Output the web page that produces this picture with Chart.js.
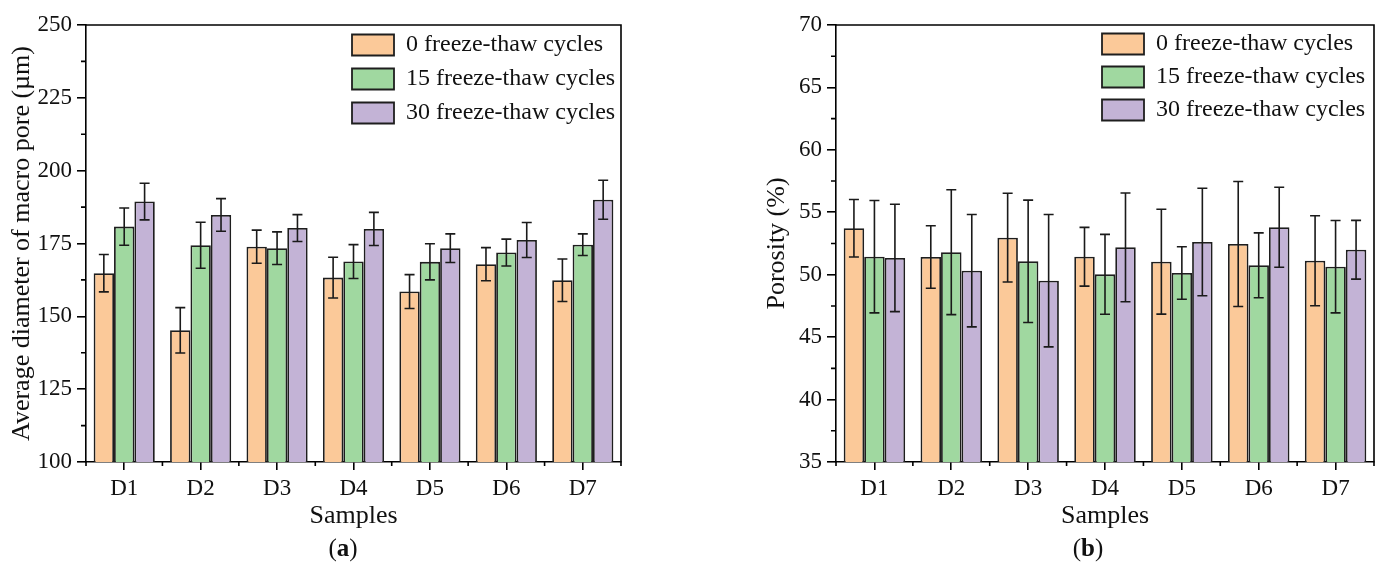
<!DOCTYPE html>
<html><head><meta charset="utf-8">
<script src="https://cdn.jsdelivr.net/npm/chart.js@4.4.1/dist/chart.umd.min.js"></script>
<style>
html,body{margin:0;padding:0;background:#fff;width:1375px;height:564px;overflow:hidden;}
.panel{position:absolute;top:0;height:564px;}
#pa{left:0;width:640px;}
#pb{left:750px;width:625px;}
.cap{position:absolute;top:534px;font:25px "Liberation Serif",serif;color:#111;width:60px;text-align:center;line-height:28px;}
</style></head><body>
<div class="panel" id="pa"><canvas id="ca"></canvas></div>
<div class="panel" id="pb"><canvas id="cb"></canvas></div>
<div class="cap" style="left:313px">(<b>a</b>)</div>
<div class="cap" style="left:1058px">(<b>b</b>)</div>
<script>
// ---- data ----
const samples = ['D1','D2','D3','D4','D5','D6','D7'];
const seriesNames = ['0 freeze-thaw cycles','15 freeze-thaw cycles','30 freeze-thaw cycles'];

const diam0     = [164.8,145.2,173.9,163.3,158.5,167.9,162.4];
const diam0Err  = [6.4,7.8,5.7,7.0,5.8,5.7,7.3];
const diam15    = [180.8,174.4,173.4,168.8,168.7,171.9,174.6];
const diam15Err = [6.4,7.9,5.6,5.8,6.2,4.6,3.7];
const diam30    = [189.4,184.8,180.3,180.0,173.4,176.2,190.0];
const diam30Err = [6.3,5.6,4.6,5.7,4.9,6.0,6.7];

const por0      = [53.72,51.42,52.97,51.44,51.04,52.46,51.12];
const por0Err   = [2.3,2.5,3.55,2.35,4.2,5.0,3.6];
const por15     = [51.44,51.80,51.07,50.03,50.14,50.75,50.64];
const por15Err  = [4.5,5.0,4.9,3.2,2.1,2.6,3.7];
const por30     = [51.34,50.32,49.52,52.19,52.62,53.80,52.00];
const por30Err  = [4.3,4.5,5.3,4.35,4.3,3.2,2.35];

const diamTicks = [100,125,150,175,200,225,250];
const porTicks  = [35,40,45,50,55,60,65,70];

// ---- styles ----
const fills = ['#FBC999','#A0D8A0','#C3B3D6'];
const FONT = '"Liberation Serif", "Times New Roman", serif';
const INK = '#111';
Chart.defaults.font.family = FONT;
Chart.defaults.color = INK;

const errorBars = {
  id: 'errorBars',
  afterDatasetsDraw(chart) {
    const ctx = chart.ctx, ys = chart.scales.y;
    chart.data.datasets.forEach((ds, i) => {
      const meta = chart.getDatasetMeta(i);
      if (meta.hidden) return;
      meta.data.forEach((bar, j) => {
        const v = ds.data[j], e = ds.errors[j];
        const yt = ys.getPixelForValue(v + e), yb = ys.getPixelForValue(v - e);
        const x = bar.x;
        ctx.save();
        ctx.strokeStyle = '#1a1a1a'; ctx.lineWidth = 1.6;
        ctx.beginPath();
        ctx.moveTo(x, yt); ctx.lineTo(x, yb);
        ctx.moveTo(x - 5, yt); ctx.lineTo(x + 5, yt);
        ctx.moveTo(x - 5, yb); ctx.lineTo(x + 5, yb);
        ctx.stroke();
        ctx.restore();
      });
    });
  }
};

const frame = {
  id: 'frame',
  afterLayout(chart, args, opts) {
    const lg = chart.legend;
    if (lg && opts.legendLeft !== undefined) {
      const w = lg.width, h = lg.height;
      lg.left = opts.legendLeft; lg.right = opts.legendLeft + w;
      lg.top = opts.legendTop; lg.bottom = opts.legendTop + h;
    }
  },
  afterDraw(chart, args, opts) {
    const {ctx, chartArea: a, scales: {x, y}} = chart;
    ctx.save();
    ctx.strokeStyle = '#000'; ctx.lineWidth = 1.6;
    ctx.beginPath();
    ctx.moveTo(a.left, a.top); ctx.lineTo(a.right, a.top); ctx.lineTo(a.right, a.bottom);
    ctx.stroke();
    ctx.beginPath();
    const t = y.ticks.map(k => k.value);
    for (let k = 0; k < t.length - 1; k++) {
      const py = y.getPixelForValue((t[k] + t[k + 1]) / 2);
      ctx.moveTo(a.left, py); ctx.lineTo(a.left - 5, py);
    }
    for (let k = 0; k <= x.ticks.length; k++) {
      const px = x.getPixelForValue(k - 0.5);
      ctx.moveTo(px, a.bottom); ctx.lineTo(px, a.bottom + 4);
    }
    ctx.stroke();
    ctx.restore();
  }
};

function makeChart(id, sets, errs, yMin, yMax, yStep, yTitle, cfg) {
  return new Chart(document.getElementById(id), {
    type: 'bar',
    data: {
      labels: samples,
      datasets: sets.map((d, i) => ({
        label: seriesNames[i],
        data: d,
        errors: errs[i],
        backgroundColor: fills[i],
        borderColor: '#1e1e1e',
        borderWidth: 1.8,
        borderSkipped: false,
        categoryPercentage: 0.8,
        barPercentage: 1.0
      }))
    },
    options: {
      responsive: true,
      maintainAspectRatio: false,
      animation: false,
      layout: {padding: {left: 0, right: cfg.padRight, top: 25, bottom: 0}},
      plugins: {
        legend: {
          position: 'chartArea',
          align: 'start',
          labels: {
            boxWidth: 42, boxHeight: 21, padding: cfg.legendPad,
            font: {size: 24, family: FONT}, color: INK
          }
        },
        tooltip: {enabled: false},
        frame: {legendLeft: cfg.legendLeft, legendTop: cfg.legendTop}
      },
      scales: {
        x: {
          type: 'category',
          offset: true,
          afterFit: s => { s.height = 102; },
          grid: {display: true, offset: false, drawOnChartArea: false, drawTicks: true, tickLength: 8, color: '#000', lineWidth: 1.6},
          border: {display: true, color: '#000', width: 1.6},
          ticks: {font: {size: 23}, color: INK, padding: 5, maxRotation: 0},
          title: {display: true, text: 'Samples', font: {size: 26}, color: INK, padding: {top: 0, bottom: 32.4}}
        },
        y: {
          min: yMin, max: yMax,
          afterFit: s => { s.width = 86; },
          grid: {display: true, drawOnChartArea: false, drawTicks: true, tickLength: 9, color: '#000', lineWidth: 1.6},
          border: {display: true, color: '#000', width: 1.6},
          ticks: {stepSize: yStep, font: {size: 23}, color: INK, padding: 5},
          title: {display: true, text: yTitle, font: {size: 26}, color: INK, padding: {top: cfg.titlePad, bottom: 0}}
        }
      }
    },
    plugins: [errorBars, frame]
  });
}

makeChart('ca', [diam0, diam15, diam30], [diam0Err, diam15Err, diam30Err],
  diamTicks[0], diamTicks[diamTicks.length - 1], diamTicks[1] - diamTicks[0],
  'Average diameter of macro pore (µm)',
  {padRight: 19, legendLeft: 342, legendTop: 23, legendPad: 10, titlePad: 6.4});

makeChart('cb', [por0, por15, por30], [por0Err, por15Err, por30Err],
  porTicks[0], porTicks[porTicks.length - 1], porTicks[1] - porTicks[0],
  'Porosity (%)',
  {padRight: 1, legendLeft: 343, legendTop: 23, legendPad: 9, titlePad: 11.4});
</script>
</body></html>
